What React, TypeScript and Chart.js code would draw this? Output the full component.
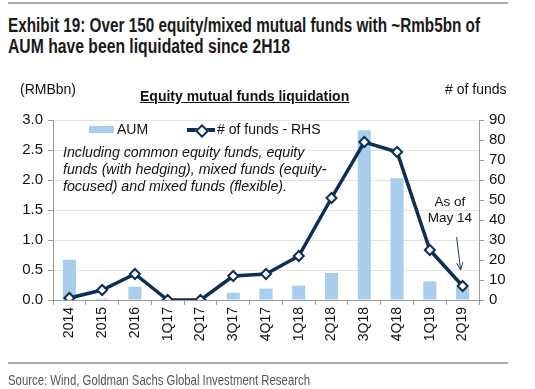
import React, { useEffect, useLayoutEffect, useRef } from "react";
import { Chart, registerables } from "chart.js";

Chart.register(...registerables);

const categories = ["2014", "2015", "2016", "1Q17", "2Q17", "3Q17", "4Q17", "1Q18", "2Q18", "3Q18", "4Q18", "1Q19", "2Q19"];
const aumValues = [0.67, 0.02, 0.22, 0, 0, 0.12, 0.19, 0.24, 0.45, 2.83, 2.03, 0.31, 0.21];
const fundCounts = [1, 5, 13, 0, 0, 12, 13, 22, 51, 79, 74, 25, 7];
const leftTicks = [0, 0.5, 1.0, 1.5, 2.0, 2.5, 3.0];
const rightTicks = [0, 10, 20, 30, 40, 50, 60, 70, 80, 90];

const BAR_COLOR = "#a9cdec";
const LINE_COLOR = "#0c2f56";
const AXIS_COLOR = "#9a9a9a";
const GRID_COLOR = "#e3e3e3";
const ARIAL = '"Liberation Sans", Arial, sans-serif';

const arrowPlugin = {
  id: "arrowNote",
  afterDatasetsDraw(chart: any) {
    const meta = chart.getDatasetMeta(1);
    const pt = meta.data[meta.data.length - 1];
    if (!pt) return;
    const ctx = chart.ctx;
    const tipX = pt.x - 2;
    const tipY = pt.y - 16;
    const startX = tipX - 4;
    const startY = tipY - 33;
    ctx.save();
    ctx.strokeStyle = "#1f3b5c";
    ctx.lineWidth = 1;
    ctx.beginPath();
    ctx.moveTo(startX, startY);
    ctx.lineTo(tipX, tipY);
    const ang = Math.atan2(tipY - startY, tipX - startX);
    const len = 8;
    ctx.moveTo(tipX, tipY);
    ctx.lineTo(tipX - len * Math.cos(ang - 0.4), tipY - len * Math.sin(ang - 0.4));
    ctx.moveTo(tipX, tipY);
    ctx.lineTo(tipX - len * Math.cos(ang + 0.4), tipY - len * Math.sin(ang + 0.4));
    ctx.stroke();
    ctx.restore();
  },
};

function FitText(props: { text: string; width: number; left: number; top: number; style: React.CSSProperties }) {
  const ref = useRef<HTMLSpanElement | null>(null);
  useLayoutEffect(() => {
    const el = ref.current;
    if (!el) return;
    el.style.transform = "none";
    const w = el.getBoundingClientRect().width;
    if (w > 0) el.style.transform = `scaleX(${props.width / w})`;
  }, [props.text, props.width]);
  return (
    <span
      ref={ref}
      style={{
        position: "absolute",
        left: props.left,
        top: props.top,
        whiteSpace: "nowrap",
        transformOrigin: "0 0",
        display: "inline-block",
        ...props.style,
      }}
    >
      {props.text}
    </span>
  );
}

export default function App() {
  const canvasRef = useRef<HTMLCanvasElement | null>(null);

  useEffect(() => {
    if (!canvasRef.current) return;
    const chart = new Chart(canvasRef.current, {
      type: "bar",
      data: {
        labels: categories,
        datasets: [
          {
            type: "bar",
            label: "AUM",
            data: aumValues,
            backgroundColor: BAR_COLOR,
            yAxisID: "y",
            categoryPercentage: 1,
            barPercentage: 0.4,
            order: 2,
          },
          {
            type: "line",
            label: "# of funds - RHS",
            data: fundCounts,
            borderColor: LINE_COLOR,
            borderWidth: 3.5,
            pointStyle: "rectRot",
            pointRadius: 5,
            pointBackgroundColor: "#ffffff",
            pointBorderColor: LINE_COLOR,
            pointBorderWidth: 2,
            yAxisID: "y1",
            tension: 0,
            order: 1,
          } as any,
        ],
      },
      options: {
        animation: false,
        responsive: false,
        maintainAspectRatio: false,
        layout: { padding: { top: 120, bottom: 28, left: 0, right: 0 } },
        plugins: {
          legend: { display: false },
          tooltip: { enabled: false },
          title: { display: false },
        },
        scales: {
          x: {
            offset: true,
            grid: {
              offset: true,
              drawOnChartArea: false,
              drawTicks: true,
              tickLength: 5,
              color: AXIS_COLOR,
            },
            border: { color: AXIS_COLOR, width: 1 },
            ticks: {
              minRotation: 90,
              maxRotation: 90,
              autoSkip: false,
              padding: 2,
              color: "#111",
              font: { family: ARIAL, size: 14 },
            },
            afterFit(scale: any) {
              scale.height = 61;
            },
          },
          y: {
            position: "left",
            min: 0,
            max: 3,
            afterBuildTicks(scale: any) {
              scale.ticks = leftTicks.map((v) => ({ value: v }));
            },
            grid: {
              color: GRID_COLOR,
              tickLength: 5,
              tickColor: AXIS_COLOR,
            },
            border: { color: AXIS_COLOR, width: 1 },
            ticks: {
              autoSkip: false,
              padding: 5,
              color: "#111",
              font: { family: ARIAL, size: 15 },
              callback: (v: any) => Number(v).toFixed(1),
            },
            afterFit(scale: any) {
              scale.width = 53;
            },
          },
          y1: {
            position: "right",
            min: 0,
            max: 90,
            afterBuildTicks(scale: any) {
              scale.ticks = rightTicks.map((v) => ({ value: v }));
            },
            grid: {
              drawOnChartArea: false,
              tickLength: 5,
              color: AXIS_COLOR,
            },
            border: { color: AXIS_COLOR, width: 1 },
            ticks: {
              autoSkip: false,
              padding: 5,
              color: "#111",
              font: { family: ARIAL, size: 15 },
            },
            afterFit(scale: any) {
              scale.width = 56;
            },
          },
        },
      },
      plugins: [arrowPlugin],
    });
    return () => chart.destroy();
  }, []);

  const abs = (style: React.CSSProperties): React.CSSProperties => ({ position: "absolute", whiteSpace: "nowrap", ...style });
  const titleStyle: React.CSSProperties = {
    fontFamily: ARIAL,
    fontWeight: "bold",
    fontSize: 20,
    lineHeight: "22px",
    color: "#1a1a1a",
  };

  return (
    <div style={{ position: "fixed", left: 0, top: 0, width: 535, height: 389, background: "#fff", overflow: "hidden" }}>
      <div style={abs({ left: 8, top: 2, width: 500, height: 2, background: "#a8a8a8" })} />
      <FitText text="Exhibit 19: Over 150 equity/mixed mutual funds with ~Rmb5bn of" width={472} left={8} top={14} style={titleStyle} />
      <FitText text="AUM have been liquidated since 2H18" width={282} left={8} top={35} style={titleStyle} />
      <canvas ref={canvasRef} width={535} height={389} style={{ position: "absolute", left: 0, top: 0 }} />
      <div style={abs({ left: 20, top: 81, fontFamily: ARIAL, fontSize: 14, color: "#111" })}>(RMBbn)</div>
      <div style={abs({ left: 445, top: 81, fontFamily: ARIAL, fontSize: 14, color: "#111" })}>
        # of funds
      </div>
      <div
        style={abs({
          left: 140,
          top: 88,
          fontFamily: ARIAL,
          fontSize: 14,
          fontWeight: "bold",
          textDecoration: "underline",
          color: "#111",
        })}
      >
        Equity mutual funds liquidation
      </div>
      <div style={abs({ left: 89, top: 126, width: 25, height: 7, background: BAR_COLOR })} />
      <div style={abs({ left: 117, top: 121, fontFamily: ARIAL, fontSize: 14, color: "#111" })}>AUM</div>
      <div style={abs({ left: 187, top: 128, width: 28, height: 4, background: LINE_COLOR })} />
      <div
        style={abs({
          left: 197,
          top: 126,
          width: 6,
          height: 6,
          background: "#fff",
          border: `2px solid ${LINE_COLOR}`,
          transform: "rotate(45deg)",
        })}
      />
      <div style={abs({ left: 217, top: 121, fontFamily: ARIAL, fontSize: 14, color: "#111" })}>
        # of funds - RHS
      </div>
      <div
        style={abs({
          left: 63,
          top: 144,
          fontFamily: ARIAL,
          fontSize: 14.2,
          fontStyle: "italic",
          lineHeight: "17px",
          color: "#111",
        })}
      >
        Including common equity funds, equity
        <br />
        funds (with hedging), mixed funds (equity-
        <br />
        focused) and mixed funds (flexible).
      </div>
      <div
        style={abs({
          left: 420,
          top: 194,
          width: 60,
          textAlign: "center",
          fontFamily: ARIAL,
          fontSize: 13.5,
          lineHeight: "16px",
          color: "#111",
        })}
      >
        As of
        <br />
        May 14
      </div>
      <div style={abs({ left: 8, top: 362, width: 500, height: 2, background: "#a8a8a8" })} />
      <FitText
        text="Source: Wind, Goldman Sachs Global Investment Research"
        width={302}
        left={8}
        top={371}
        style={{ fontFamily: ARIAL, fontSize: 15, color: "#555" }}
      />
    </div>
  );
}
